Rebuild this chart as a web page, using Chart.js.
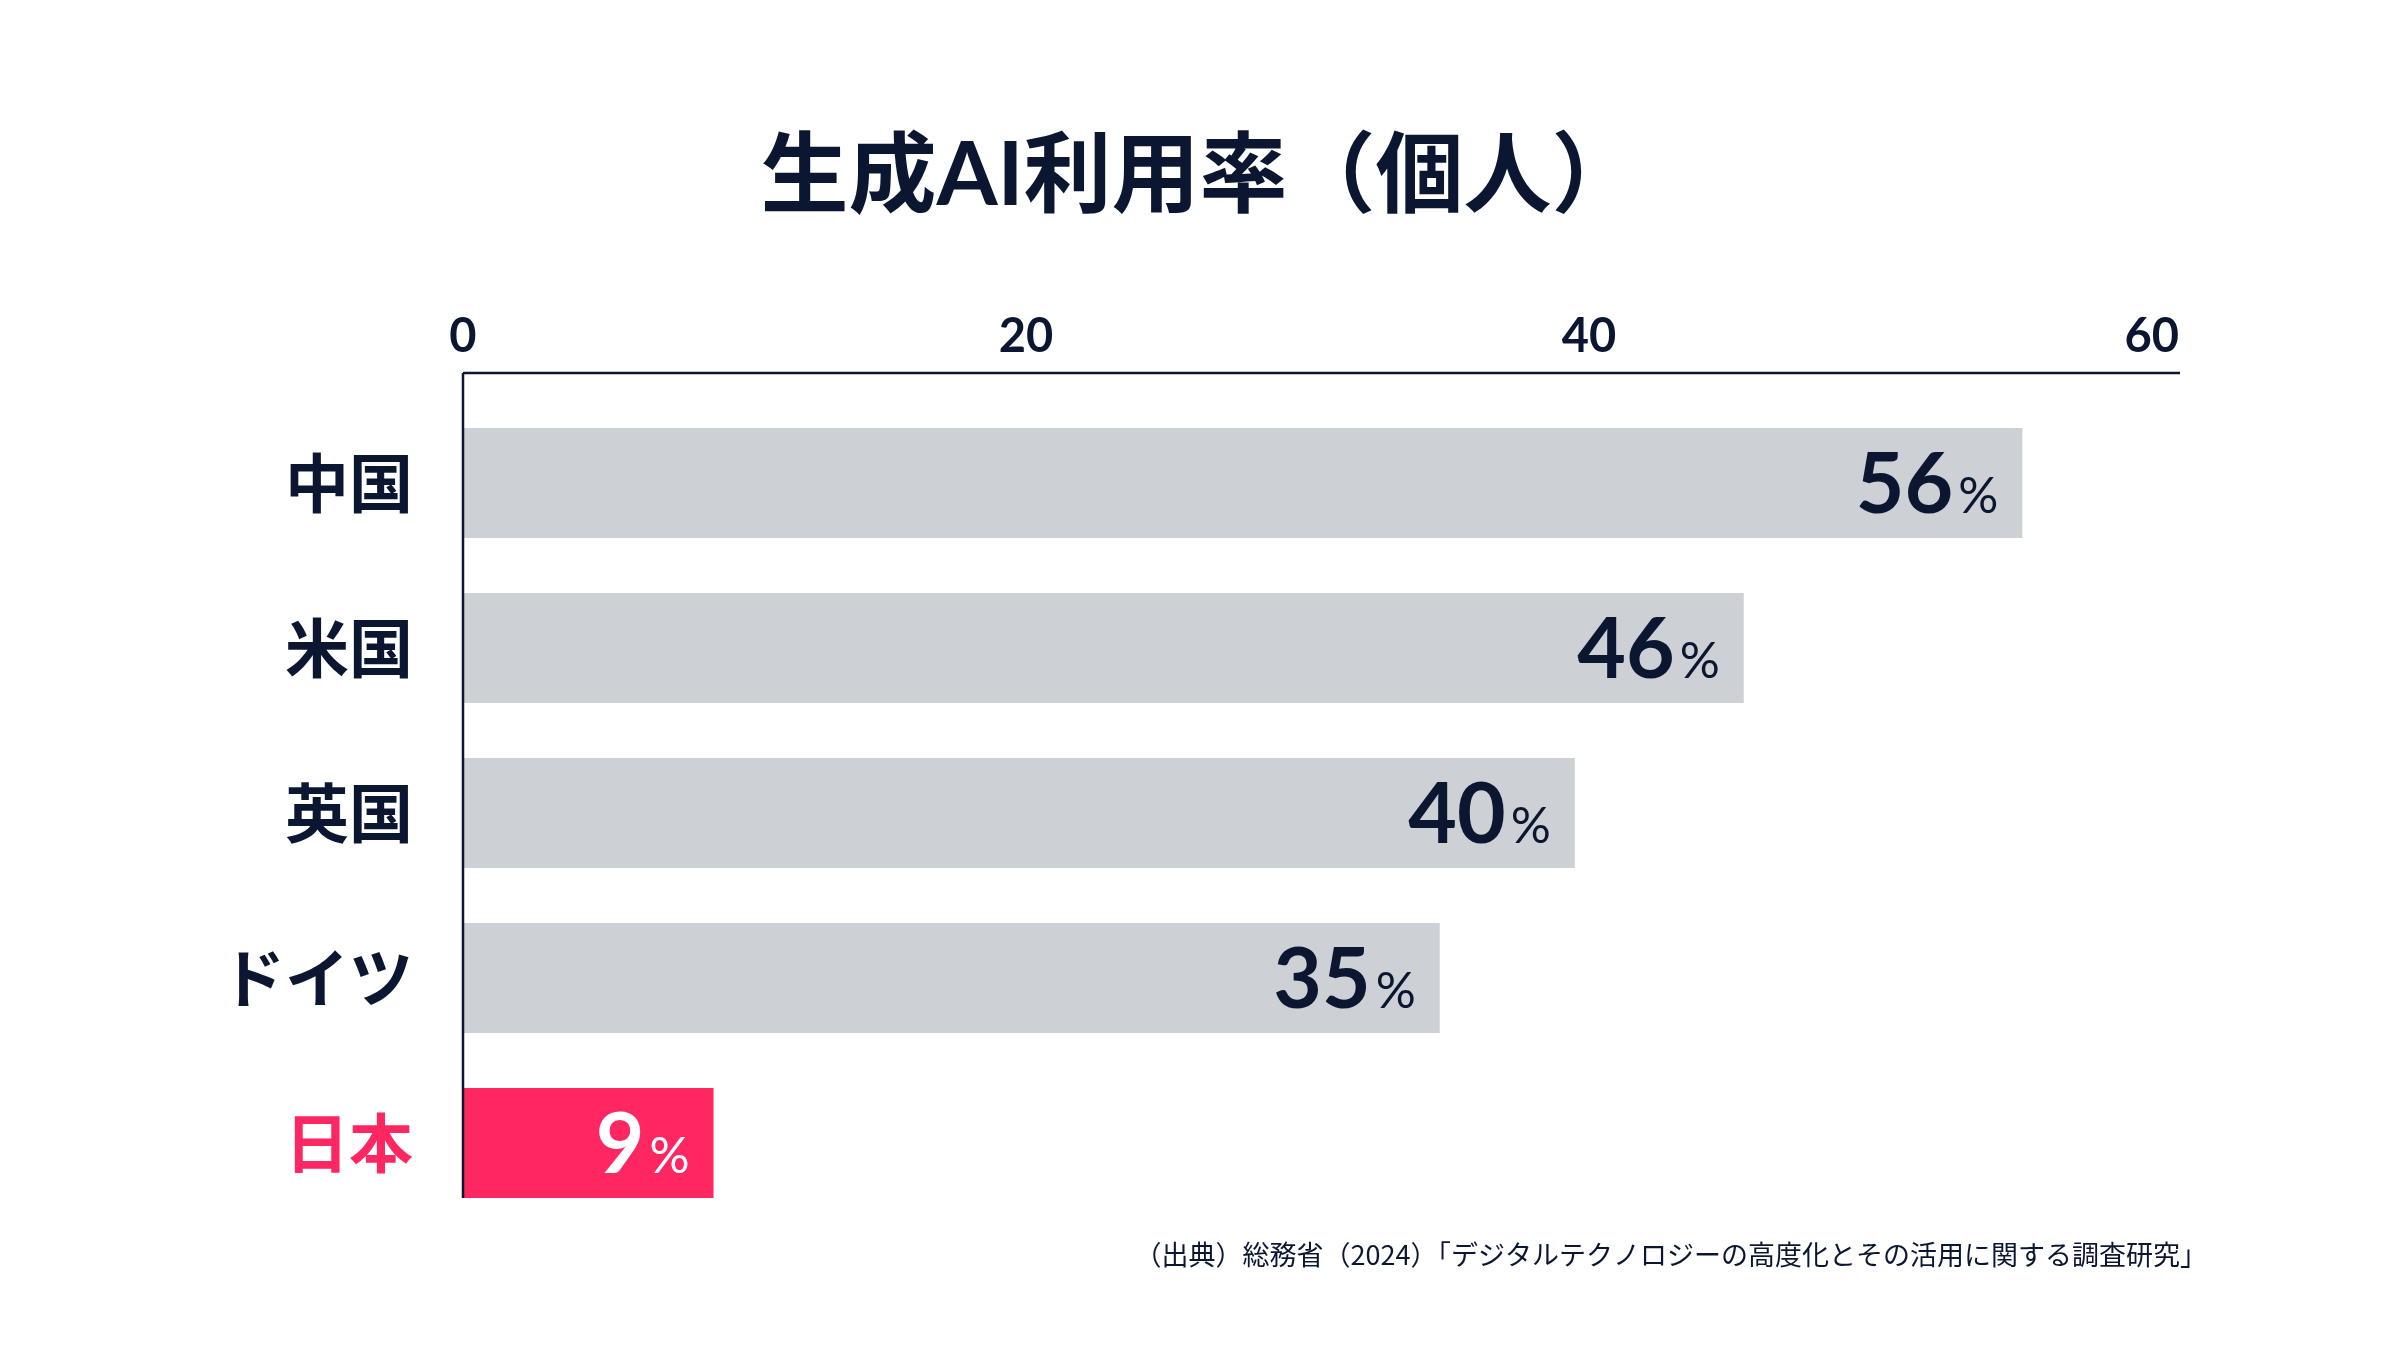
<!DOCTYPE html>
<html lang="ja">
<head>
<meta charset="utf-8">
<title>生成AI利用率（個人）</title>
<script src="https://cdn.jsdelivr.net/npm/chart.js@4.4.1/dist/chart.umd.min.js"></script>
<style>
  html, body { margin: 0; padding: 0; background: #fff; }
  canvas { display: block; }
</style>
</head>
<body>
<canvas id="chartUsage" width="2400" height="1350"></canvas>
<script>
// data
const countries = ['中国', '米国', '英国', 'ドイツ', '日本'];
const usageRates = [55.4, 45.5, 39.5, 34.7, 8.9];
const rateLabels = ['56', '46', '40', '35', '9'];
const xTicks = [0, 20, 40, 60];
const highlightIndex = 4;

const titleText = '生成AI利用率（個人）';
const sourceText = '（出典）総務省（2024）「デジタルテクノロジーの高度化とその活用に関する調査研究」';

const NAVY = '#0b1631';
const GRAY = '#cdd0d5';
const PINK = '#ff2762';
const LATIN = 'Lato, "Noto Sans CJK JP", sans-serif';
const CJK = '"Noto Sans CJK JP", sans-serif';

// title centred on the whole canvas, not on the plot
const pageTitle = {
  id: 'pageTitle',
  afterDraw(chart) {
    const { ctx } = chart;
    ctx.save();
    ctx.fillStyle = NAVY;
    ctx.font = `bold 88px ${LATIN}`;
    ctx.textAlign = 'center';
    ctx.textBaseline = 'middle';
    ctx.fillText(titleText, chart.width / 2, 177);
    ctx.restore();
  }
};

// axis lines sit one bar-gap above the first bar and stop at the last bar
const axisLines = {
  id: 'axisLines',
  afterDatasetsDraw(chart) {
    const { ctx, scales: { x, y } } = chart;
    const bars = chart.getDatasetMeta(0).data;
    const first = bars[0], last = bars[bars.length - 1];
    const band = y.getPixelForValue(1) - y.getPixelForValue(0);
    const top = first.y - first.height / 2 - (band - first.height);
    const bottom = last.y + last.height / 2;
    ctx.save();
    ctx.strokeStyle = NAVY;
    ctx.lineWidth = 2.5;
    ctx.beginPath();
    ctx.moveTo(x.left, top);
    ctx.lineTo(x.right, top);
    ctx.moveTo(x.left, top);
    ctx.lineTo(x.left, bottom);
    ctx.stroke();
    ctx.restore();
  }
};

// "56%" labels inside the bar ends
const valueLabels = {
  id: 'valueLabels',
  afterDatasetsDraw(chart) {
    const { ctx } = chart;
    chart.getDatasetMeta(0).data.forEach((bar, i) => {
      const right = bar.x - 24;
      const base = bar.y + 30;
      ctx.save();
      ctx.fillStyle = i === highlightIndex ? '#fff' : NAVY;
      ctx.textAlign = 'right';
      ctx.textBaseline = 'alphabetic';
      ctx.font = `50px ${LATIN}`;
      ctx.fillText('%', right, base);
      const w = ctx.measureText('%').width;
      ctx.font = `bold 84px ${LATIN}`;
      ctx.fillText(rateLabels[i], right - w - 5, base);
      ctx.restore();
    });
  }
};

const sourceNote = {
  id: 'sourceNote',
  afterDraw(chart) {
    const { ctx, scales: { x } } = chart;
    const bars = chart.getDatasetMeta(0).data;
    const last = bars[bars.length - 1];
    ctx.save();
    ctx.fillStyle = NAVY;
    ctx.font = `27px ${CJK}`;
    ctx.textAlign = 'right';
    ctx.textBaseline = 'middle';
    ctx.fillText(sourceText, x.right + 27, last.y + last.height / 2 + 57);
    ctx.restore();
  }
};

new Chart(document.getElementById('chartUsage').getContext('2d'), {
  type: 'bar',
  data: {
    labels: countries,
    datasets: [{
      data: usageRates,
      backgroundColor: countries.map((c, i) => i === highlightIndex ? PINK : GRAY),
      borderWidth: 0,
      barPercentage: 0.667,
      categoryPercentage: 1
    }]
  },
  options: {
    indexAxis: 'y',
    responsive: false,
    animation: false,
    devicePixelRatio: 1,
    layout: { padding: { top: 245.8, left: 0, right: 220, bottom: 124.5 } },
    plugins: {
      legend: { display: false },
      tooltip: { enabled: false },
      title: { display: false }
    },
    scales: {
      x: {
        type: 'linear',
        position: 'top',
        min: 0,
        max: 61,
        afterBuildTicks: s => { s.ticks = xTicks.map(v => ({ value: v })); },
        afterFit: s => { s.height = 154.7; },
        grid: { display: false, drawTicks: false },
        border: { display: false },
        ticks: { color: NAVY, padding: 35, font: { family: LATIN, size: 47, weight: 'bold' } }
      },
      y: {
        afterFit: s => { s.width = 463; },
        grid: { display: false, drawTicks: false },
        border: { display: false },
        ticks: {
          padding: 50,
          color: ctx => ctx.index === highlightIndex ? PINK : NAVY,
          font: { family: CJK, size: 64, weight: 'bold' }
        }
      }
    }
  },
  plugins: [pageTitle, axisLines, valueLabels, sourceNote]
});
</script>
</body>
</html>
